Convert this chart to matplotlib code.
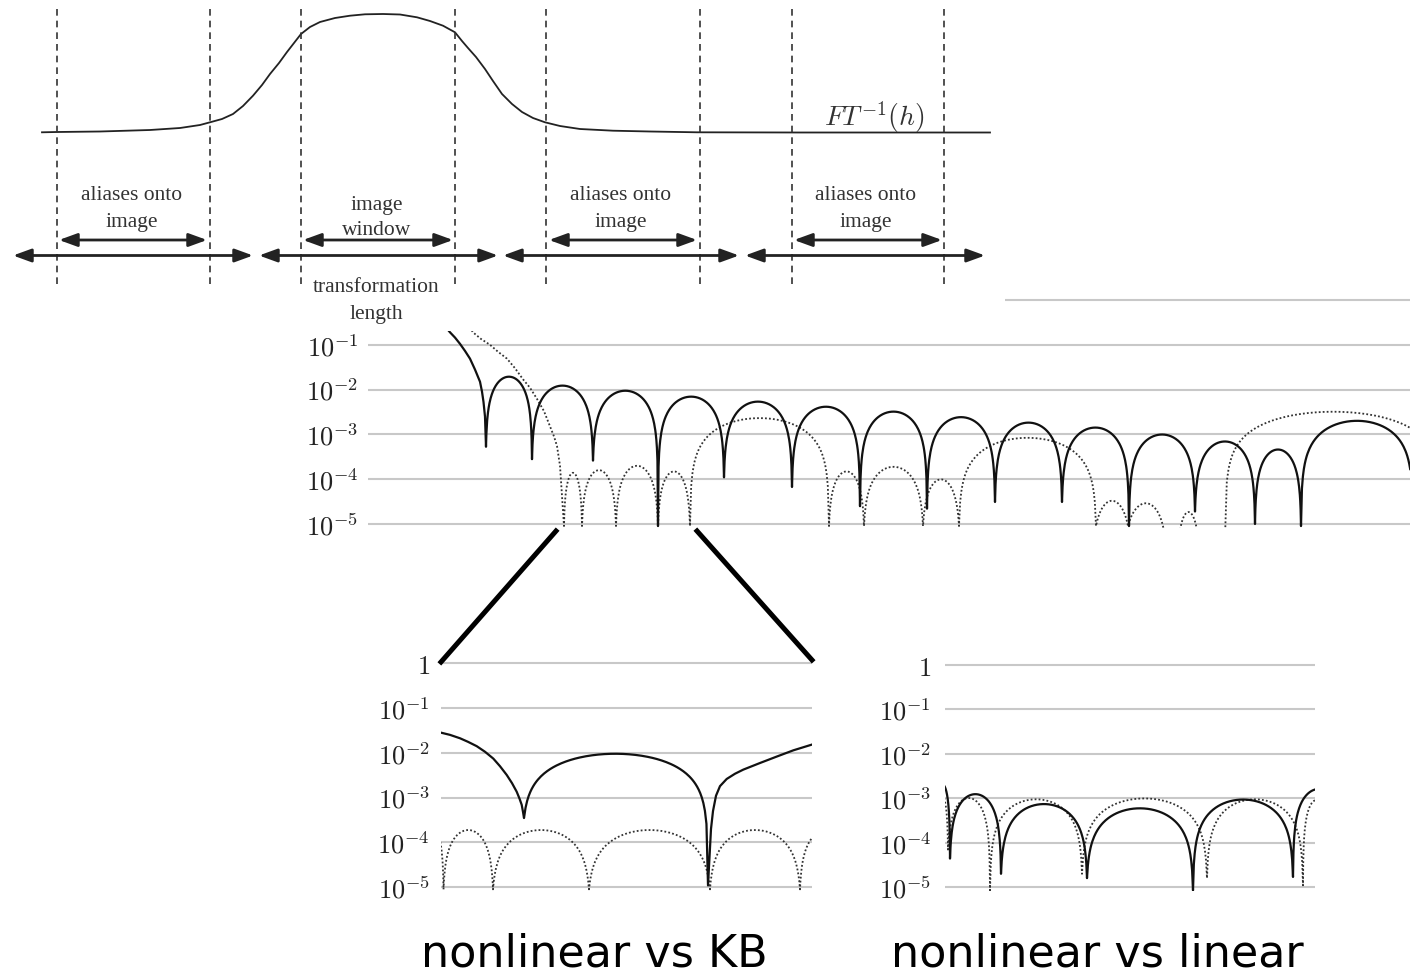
import numpy as np
import matplotlib
matplotlib.use("Agg")
import matplotlib.pyplot as plt
from matplotlib.lines import Line2D
from matplotlib.ticker import NullLocator

plt.rcParams["mathtext.fontset"] = "cm"

# ---- top sketch: FT^-1(h) (pixel coords of the drawing) ----
ft_x = [42, 57, 100, 150, 180, 200, 210, 222, 233, 243, 253, 262, 270, 279, 287, 294,
        301, 310, 320, 335, 350, 365, 383, 400, 417, 430, 443, 455, 462, 468, 476, 485,
        493, 502, 512, 522, 533, 545, 560, 580, 613, 650, 697, 800, 990]
ft_y = [133.3, 133, 132.5, 131, 129, 126, 123.3, 120, 115, 107, 96.7, 86, 75, 64, 53, 44,
        35, 28, 23, 19, 16.7, 15.3, 15, 15.5, 18.3, 22, 26.7, 33.3, 42, 49, 58, 70,
        82, 95, 105, 113, 119, 123.3, 127, 130, 131.7, 132.5, 133.3, 133.5, 133.5]
window_edges = [57, 210, 301, 455, 546, 700, 792, 944]
long_arrows = [(13, 253), (259, 498), (503, 739), (745, 985)]
short_arrows = [(59, 207), (303, 453), (549, 697), (794, 942)]
region_labels = [("aliases onto", "image", 132), ("image", "window", 377),
                 ("aliases onto", "image", 621), ("aliases onto", "image", 866)]

# ---- middle panel (x in pixel units of the reference) ----
mid_solid_lead_x = [440, 445, 450, 455, 460, 465, 470, 475, 480, 482, 483.5, 485]
mid_solid_lead_y = [0.36, 0.26, 0.19, 0.145, 0.105, 0.073, 0.049, 0.028, 0.015, 0.009, 0.0053, 0.0025]
mid_solid_zeros = [486, 532, 593, 658, 724, 792, 860, 927, 995, 1062, 1129, 1195, 1255, 1301, 1413]
mid_solid_dips = [5.3e-4, 2.8e-4, 2.6e-4, 9e-6, 1.1e-4, 6.7e-5, 2.5e-5, 2.2e-5, 3.1e-5,
                  3.1e-5, 9e-6, 1.9e-5, 1e-5, 9e-6, 1e-5]
mid_solid_peaks = [1.9e-2, 1.2e-2, 9.3e-3, 6.9e-3, 5.3e-3, 4.1e-3, 3.2e-3, 2.4e-3, 1.8e-3,
                   1.4e-3, 9.8e-4, 6.8e-4, 4.5e-4, 2.0e-3]

mid_dot_lead_x = [465, 473, 481, 490, 498, 507, 515, 523, 530, 537, 544, 550, 554, 557, 560]
mid_dot_lead_y = [0.35, 0.19, 0.135, 0.1, 0.07, 0.049, 0.03, 0.017, 0.011, 0.0062, 0.0033,
                  0.0015, 0.0009, 0.00055, 0.0002]
mid_dot_zeros = [564, 582, 616, 658, 690, 829, 864, 923, 959, 1096, 1128, 1165, 1179, 1198, 1225, 1441]
mid_dot_dips = [9e-6] * 11 + [5e-6, 5e-6, 5e-6, 5e-6, 9e-6]
mid_dot_peaks = [1.3e-4, 1.5e-4, 1.9e-4, 1.4e-4, 2.3e-3, 1.4e-4, 1.8e-4, 9e-5, 8.3e-4,
                 2.4e-5, 2.2e-5, 1e-6, 1.35e-5, 1e-6, 3.2e-3]

# ---- bottom left: nonlinear vs KB ----
bl_solid_left_x = [441, 450, 460, 468, 476.7, 485, 493.3, 500, 506.7, 512, 516.7, 519.5, 521.7, 523]
bl_solid_left_y = [0.028, 0.025, 0.021, 0.0175, 0.014, 0.0105, 7.4e-3, 5e-3, 3.2e-3, 2.1e-3,
                   1.35e-3, 9.5e-4, 6.9e-4, 4.8e-4]
bl_solid_zeros = [524, 708]
bl_solid_dips = [3.5e-4, 1.1e-5]
bl_solid_peaks = [9.3e-3]
bl_solid_right_x = [709, 711, 713, 716, 720, 726.7, 735, 743.3, 760, 776.7, 793.3, 812]
bl_solid_right_y = [3e-5, 2e-4, 5e-4, 1.1e-3, 1.8e-3, 2.6e-3, 3.4e-3, 4.2e-3, 5.9e-3,
                    8.2e-3, 0.0113, 0.0152]

bl_dot_zeros = [425, 443.5, 493, 589, 710, 800, 850]
bl_dot_dips = [9e-6] * 7
bl_dot_peaks = [1.8e-4, 1.8e-4, 1.8e-4, 1.8e-4, 1.8e-4, 1.7e-4]

# ---- bottom right: nonlinear vs linear ----
br_solid_zeros = [935, 950, 1001, 1087, 1193, 1293, 1345]
br_solid_dips = [1e-5, 4.4e-5, 2e-5, 1.6e-5, 8.5e-6, 1.7e-5, 1e-5]
br_solid_peaks = [2e-3, 1.2e-3, 7.2e-4, 5.8e-4, 9.2e-4, 1.6e-3]

br_dot_zeros = [935, 948, 990, 1082, 1207, 1303, 1330]
br_dot_dips = [1e-5, 7e-5, 8.5e-6, 2e-5, 1.6e-5, 1.1e-5, 1e-5]
br_dot_peaks = [1.2e-3, 9.7e-4, 9.3e-4, 9.7e-4, 9.3e-4, 9e-4]

tick_labels = ["$1$", "$10^{-1}$", "$10^{-2}$", "$10^{-3}$", "$10^{-4}$", "$10^{-5}$"]

W, H = 1410, 979
fig = plt.figure(figsize=(W / 100, H / 100), dpi=100)


def px_axes(x0, y0, x1, y1, **kw):
    return fig.add_axes([x0 / W, 1 - y1 / H, (x1 - x0) / W, (y1 - y0) / H], **kw)


def arches(zeros, dips, peaks, n=120):
    xs, ys = [], []
    for i, p in enumerate(peaks):
        t = np.linspace(0, 1, n)
        xs.append(zeros[i] + t * (zeros[i + 1] - zeros[i]))
        ys.append(p * np.sin(np.pi * t) + dips[i] * (1 - t) + dips[i + 1] * t)
    return np.concatenate(xs), np.concatenate(ys)


def log_panel(x0, x1, y_one, dec, pad, first=0):
    lo, hi = -5.08, 0.08
    ax = px_axes(x0, y_one - hi * dec, x1, y_one - lo * dec, zorder=1)
    ax.set_yscale("log")
    ax.set_ylim(10 ** lo, 10 ** hi)
    ax.set_xlim(x0, x1)
    ax.patch.set_alpha(0)
    for e in range(-5, 1):
        ax.axhline(10.0 ** e, color="#c8c8c8", lw=1.5, zorder=0)
    ax.set_yticks([10.0 ** -e for e in range(first, 6)], tick_labels[first:])
    ax.yaxis.set_minor_locator(NullLocator())
    ax.tick_params(axis="y", length=0, pad=pad, labelsize=19, labelcolor="#222222")
    ax.set_xticks([])
    for s in ax.spines.values():
        s.set_visible(False)
    return ax


solid_kw = dict(color="#111111", lw=1.6)
dot_kw = dict(color="#333333", lw=1.3, linestyle=(0, (1, 1.2)))

# middle panel (its "1" row sits under the sketch, so no label there)
mid = log_panel(368, 1410, 301, 44.8, 7, first=1)
x, y = arches(mid_dot_zeros, mid_dot_dips, mid_dot_peaks)
mid.plot(np.r_[mid_dot_lead_x, x], np.r_[mid_dot_lead_y, y], **dot_kw)
x, y = arches(mid_solid_zeros, mid_solid_dips, mid_solid_peaks)
mid.plot(np.r_[mid_solid_lead_x, x], np.r_[mid_solid_lead_y, y], **solid_kw)

# bottom left
bl = log_panel(441, 812, 664, 44.86, 8)
x, y = arches(bl_dot_zeros, bl_dot_dips, bl_dot_peaks)
bl.plot(x, y, **dot_kw)
x, y = arches(bl_solid_zeros, bl_solid_dips, bl_solid_peaks)
bl.plot(np.r_[bl_solid_left_x, x, bl_solid_right_x],
        np.r_[bl_solid_left_y, y, bl_solid_right_y], **solid_kw)

# bottom right
br = log_panel(945, 1315, 665.7, 44.5, 10)
x, y = arches(br_dot_zeros, br_dot_dips, br_dot_peaks)
br.plot(x, y, **dot_kw)
x, y = arches(br_solid_zeros, br_solid_dips, br_solid_peaks)
br.plot(x, y, **solid_kw)

# zoom lines
for (xa, ya), (xb, yb) in [((556, 532), (441, 663)), ((697, 532), (812, 661))]:
    fig.add_artist(Line2D([xa / W, xb / W], [1 - ya / H, 1 - yb / H],
                          transform=fig.transFigure, lw=3.6, color="black"))

fig.text(594 / W, 1 - 967 / H, "nonlinear vs KB", fontsize=32, ha="center",
         va="baseline", family="DejaVu Sans")
fig.text(1097 / W, 1 - 967 / H, "nonlinear vs linear", fontsize=32, ha="center",
         va="baseline", family="DejaVu Sans")

# top sketch, drawn over the middle panel with a white background
top = px_axes(0, 0, 1005, 332, zorder=5)
top.set_xlim(0, 1005)
top.set_ylim(332, 0)
top.set_facecolor("white")
top.set_xticks([])
top.set_yticks([])
for s in top.spines.values():
    s.set_visible(False)

top.plot(ft_x, ft_y, color="#222222", lw=1.3)
for xe in window_edges:
    top.plot([xe, xe], [10, 288], color="#333333", lw=1.2, linestyle=(0, (4, 3)))

arrow_kw = dict(arrowstyle="<|-|>,head_length=1.1,head_width=0.4", color="#222222",
                lw=2, shrinkA=0, shrinkB=0, mutation_scale=10)
for xa, xb in long_arrows:
    top.annotate("", xy=(xb, 256.5), xytext=(xa, 256.5), arrowprops=arrow_kw)
for xa, xb in short_arrows:
    top.annotate("", xy=(xb, 241), xytext=(xa, 241), arrowprops=arrow_kw)

serif = dict(family="Liberation Serif", fontsize=15.5, color="#333333", ha="center", va="baseline")
for l1, l2, xc in region_labels:
    if l1 == "image":
        top.text(xc, 210, l1, **serif)
        top.text(xc, 235, l2, **serif)
    else:
        top.text(xc, 200, l1, **serif)
        top.text(xc, 227, l2, **serif)
top.text(376, 292, "transformation", **serif)
top.text(376, 319, "length", **serif)
top.text(874, 126, "$FT^{-1}(h)$", fontsize=20, color="#333333", ha="center", va="baseline")

fig.savefig("out.png", dpi=100)
